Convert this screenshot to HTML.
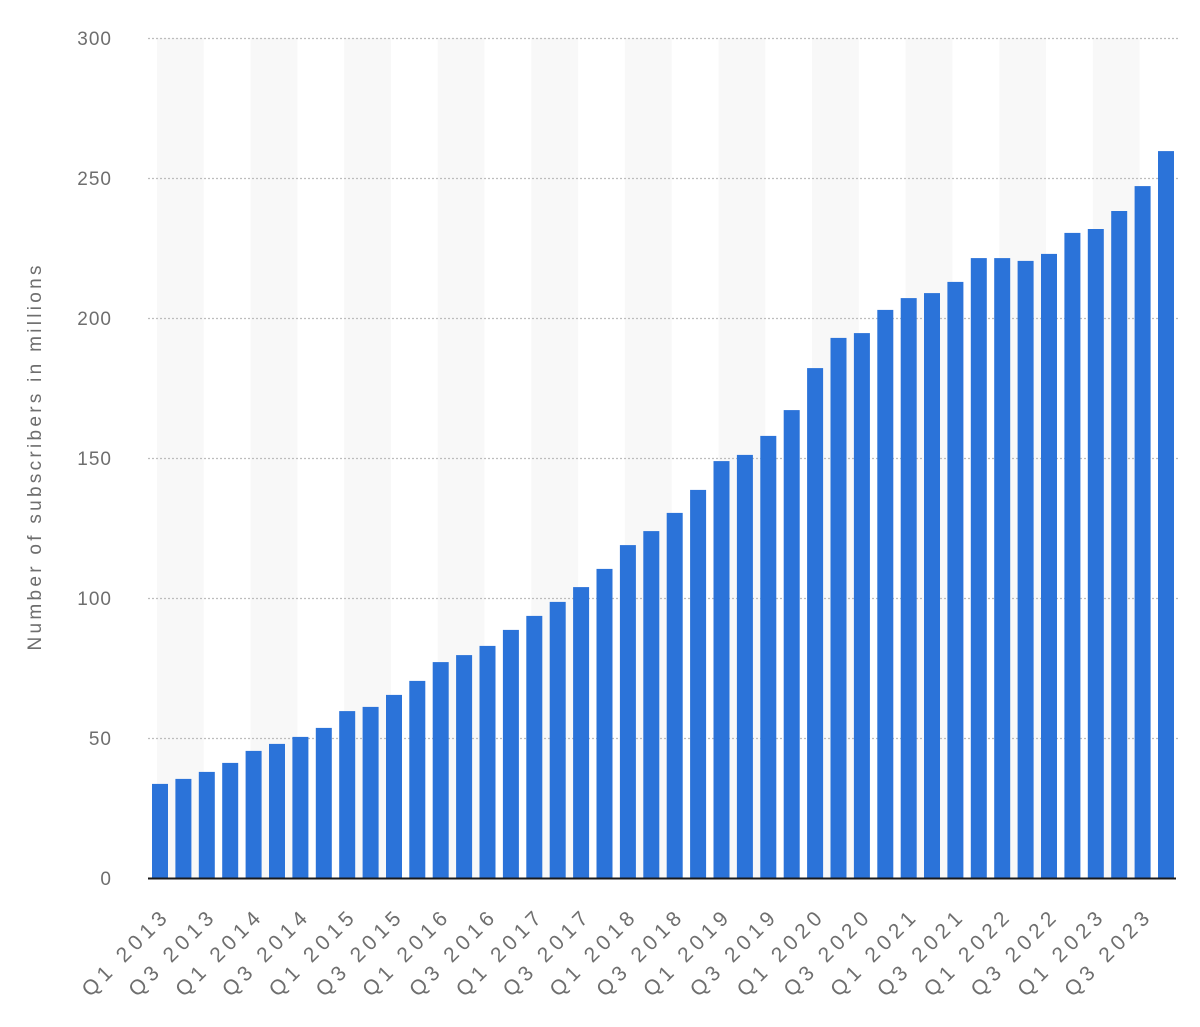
<!DOCTYPE html>
<html><head><meta charset="utf-8"><style>
html,body{margin:0;padding:0;background:#fff;}
svg{display:block;font-family:"Liberation Sans","DejaVu Sans",sans-serif;}
</style></head><body>
<svg width="1200" height="1027" viewBox="0 0 1200 1027" xmlns="http://www.w3.org/2000/svg">
<g id="bands" fill="#f8f8f8"></g>
<g id="grid" stroke="#bdbdbd" stroke-width="1.3" stroke-dasharray="2,2"></g>
<g id="ylab" fill="#6e6e6e" font-size="19" text-anchor="end" letter-spacing="1"></g>
<g id="bars" fill="#2b73d9"></g>
<line x1="148" y1="878.5" x2="1176" y2="878.5" stroke="#1a1a1a" stroke-width="2"/>
<g id="xlab" fill="#6e6e6e" font-size="21" text-anchor="end"></g>
<text x="0" y="0" transform="translate(41,458) rotate(-90)" fill="#6e6e6e" font-size="19" text-anchor="middle" textLength="385" lengthAdjust="spacing">Number of subscribers in millions</text>
</svg>
<script>
var ns="http://www.w3.org/2000/svg";
function el(p,t,a,txt){var e=document.createElementNS(ns,t);for(var k in a)e.setAttribute(k,a[k]);if(txt)e.textContent=txt;document.getElementById(p).appendChild(e);}
var vals=[33.6,35.4,37.9,41.1,45.4,47.9,50.4,53.6,59.6,61.1,65.4,70.4,77.1,79.6,82.9,88.6,93.6,98.6,103.9,110.4,118.9,123.9,130.4,138.6,148.9,151.1,157.9,167.1,182.1,192.9,194.6,202.9,207.1,208.9,212.9,221.4,221.4,220.4,222.9,230.4,231.8,238.2,247.1,259.6];
var p=(1158-152)/43;
for(var b=157;b<1178;b+=4*p){el("bands","rect",{x:b,y:38,width:Math.min(2*p,1178-b),height:840});}
for(var v=50;v<=300;v+=50){var y=878-v*2.8;el("grid","line",{x1:148,y1:y+0.5,x2:1178,y2:y+0.5});}
for(var v=0;v<=300;v+=50){var y=878-v*2.8;el("ylab","text",{x:112,y:y+7},String(v));}
for(var i=0;i<vals.length;i++){var x=152+i*p,h=vals[i]*2.8;el("bars","rect",{x:x.toFixed(1),y:(878-h).toFixed(1),width:16,height:h.toFixed(1)});}
for(var i=0;i<44;i+=2){var cx=152+i*p+8;var yr=2013+Math.floor(i/4);var q=(i%4==0)?"Q1":"Q3";
el("xlab","text",{x:0,y:0,textLength:110,lengthAdjust:"spacing",transform:"translate("+(cx+8).toFixed(1)+",920) rotate(-45)"},q+" "+yr);}
</script>
</body></html>
